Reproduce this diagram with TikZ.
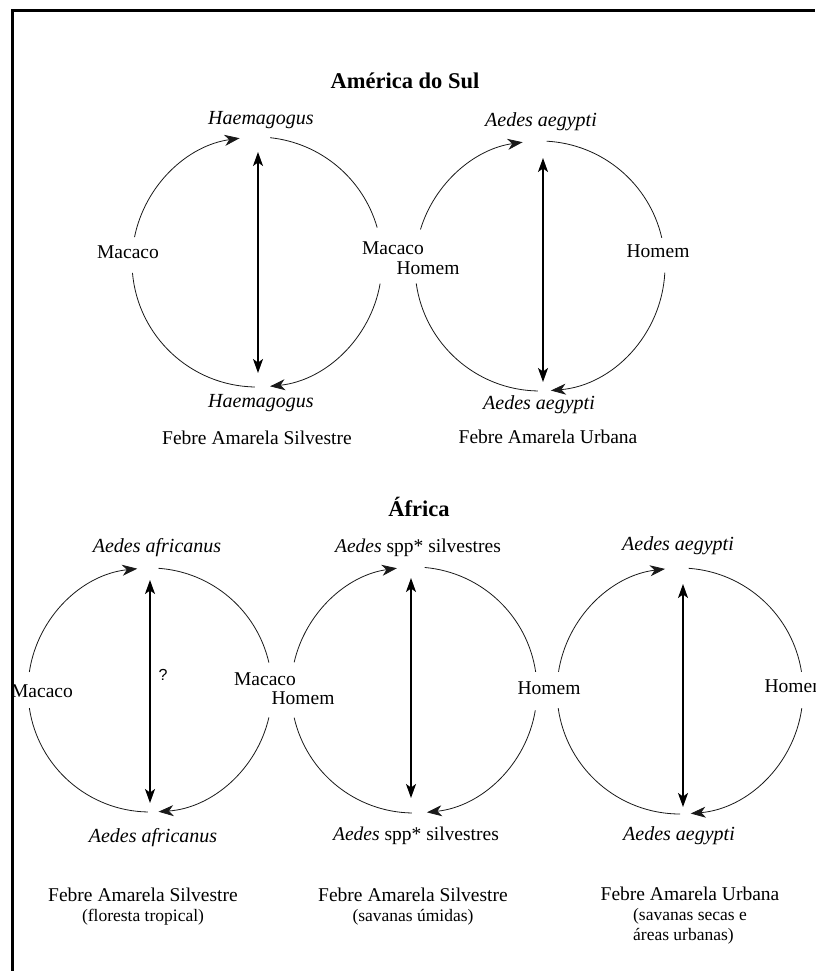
\documentclass[tikz,border=0pt]{standalone}
\usepackage{fontspec}
\setmainfont{Liberation Serif}
\setsansfont{Liberation Sans}
\usetikzlibrary{arrows.meta, positioning}

\begin{document}
\begin{tikzpicture}[
        x=1pt, y=1pt,
        lbl/.style={font=\fontsize{19.5}{22}\selectfont, inner sep=0pt},
        vec/.style={inner sep=0pt, font=\fontsize{20}{22}\selectfont\itshape},
        ttl/.style={inner sep=0pt, font=\fontsize{22.5}{26}\selectfont\bfseries},
        sub/.style={inner sep=0pt, font=\fontsize{17.5}{20}\selectfont},
        cyc/.style={line width=0.8pt, black!90},
        cycarrow/.style={cyc, -{Stealth[length=15pt, width=11pt, inset=4.5pt]}},
        link/.style={line width=1.4pt, {Stealth[length=14pt, width=10pt, inset=3.5pt]}-{Stealth[length=14pt, width=10pt, inset=3.5pt]}}
    ]

        \useasboundingbox (0,0) rectangle (815,-971);

        \coordinate (c1) at (257,-262);
        \coordinate (c2) at (540,-266);
        \coordinate (c3) at (150,-690);
        \coordinate (c4) at (414,-690);
        \coordinate (c5) at (680,-691);

        \node[ttl] (amsul) at (405,-81) {América do Sul};
        \node[vec] (hg1t) at (261,-120) {Haemagogus};
        \node[vec] (hg1b) at (261,-403) {Haemagogus};
        \node[lbl] (mac1) at (128,-252) {Macaco};
        \node[lbl] (mac12) at (393,-248) {Macaco};
        \node[lbl] (hom12) at (428,-268) {Homem};
        \node[lbl] (fas1) at (257,-438) {Febre Amarela Silvestre};
        \node[vec] (ae2t) at (541,-122) {Aedes aegypti};
        \node[vec] (ae2b) at (539,-405) {Aedes aegypti};
        \node[lbl] (hom2) at (658,-251) {Homem};
        \node[lbl] (fau2) at (548,-437) {Febre Amarela Urbana};

        \node[ttl] (afr) at (419,-507) {África};
        \node[vec] (af3t) at (157,-548) {Aedes africanus};
        \node[vec] (af3b) at (153,-838) {Aedes africanus};
        \node[font=\sffamily\fontsize{16}{18}\selectfont, inner sep=0pt] (q3) at (163,-675) {?};
        \node[lbl] (mac3) at (42,-691) {Macaco};
        \node[lbl] (mac34) at (265,-679) {Macaco};
        \node[lbl] (hom34) at (303,-698) {Homem};
        \node[lbl] (sp4t) at (418,-548) {\textit{Aedes} spp* silvestres};
        \node[lbl] (sp4b) at (416,-836) {\textit{Aedes} spp* silvestres};
        \node[lbl] (hom45) at (549,-688) {Homem};
        \node[vec] (ae5t) at (678,-546) {Aedes aegypti};
        \node[vec] (ae5b) at (679,-836) {Aedes aegypti};
        \node[lbl] (hom5) at (796,-686) {Homem};

        \node[lbl] (fas3) at (143,-895) {Febre Amarela Silvestre};
        \node[sub, below=7pt of fas3] (flo3) {(floresta tropical)};
        \node[lbl] (fas4) at (413,-895) {Febre Amarela Silvestre};
        \node[sub, below=7pt of fas4] (sav4) {(savanas úmidas)};
        \node[lbl] (fau5) at (690,-894) {Febre Amarela Urbana};
        \node[sub, align=left, below=7pt of fau5] (sav5) {(savanas secas e\\áreas urbanas)};

        \draw[cycarrow] ([shift={(168.5:125pt)}]c1) arc[start angle=168.5, end angle=98, radius=125pt];
        \draw[cyc] ([shift={(84:125pt)}]c1) arc[start angle=84, end angle=16, radius=125pt];
        \draw[cycarrow] ([shift={(-10:125pt)}]c1) arc[start angle=-10, end angle=-84, radius=125pt];
        \draw[cyc] ([shift={(-91:125pt)}]c1) arc[start angle=-91, end angle=-175, radius=125pt];

        \draw[cycarrow] ([shift={(163:125pt)}]c2) arc[start angle=163, end angle=98, radius=125pt];
        \draw[cyc] ([shift={(87:125pt)}]c2) arc[start angle=87, end angle=13, radius=125pt];
        \draw[cycarrow] ([shift={(-3:125pt)}]c2) arc[start angle=-3, end angle=-85, radius=125pt];
        \draw[cyc] ([shift={(-91:125pt)}]c2) arc[start angle=-91, end angle=-172, radius=125pt];

        \draw[cycarrow] ([shift={(171.5:122pt)}]c3) arc[start angle=171.5, end angle=96, radius=122pt];
        \draw[cyc] ([shift={(86:122pt)}]c3) arc[start angle=86, end angle=13, radius=122pt];
        \draw[cycarrow] ([shift={(-13:122pt)}]c3) arc[start angle=-13, end angle=-86, radius=122pt];
        \draw[cyc] ([shift={(-91:122pt)}]c3) arc[start angle=-91, end angle=-171.5, radius=122pt];

        \draw[cycarrow] ([shift={(167:123pt)}]c4) arc[start angle=167, end angle=98, radius=123pt];
        \draw[cyc] ([shift={(85:123pt)}]c4) arc[start angle=85, end angle=8.5, radius=123pt];
        \draw[cycarrow] ([shift={(-9.5:123pt)}]c4) arc[start angle=-9.5, end angle=-84, radius=123pt];
        \draw[cyc] ([shift={(-91:123pt)}]c4) arc[start angle=-91, end angle=-167, radius=123pt];

        \draw[cycarrow] ([shift={(171:123pt)}]c5) arc[start angle=171, end angle=97, radius=123pt];
        \draw[cyc] ([shift={(86:123pt)}]c5) arc[start angle=86, end angle=9, radius=123pt];
        \draw[cycarrow] ([shift={(-8:123pt)}]c5) arc[start angle=-8, end angle=-85, radius=123pt];
        \draw[cyc] ([shift={(-90:123pt)}]c5) arc[start angle=-90, end angle=-172, radius=123pt];

        \coordinate (v1t) at (258,-152);
        \coordinate (v1b) at (258,-373);
        \coordinate (v2t) at (543,-158);
        \coordinate (v2b) at (543,-382);
        \coordinate (v3t) at (150,-580);
        \coordinate (v3b) at (150,-803);
        \coordinate (v4t) at (411,-578);
        \coordinate (v4b) at (411,-798);
        \coordinate (v5t) at (683,-584);
        \coordinate (v5b) at (683,-807);

        \draw[link] (v1t) -- (v1b);
        \draw[link] (v2t) -- (v2b);
        \draw[link] (v3t) -- (v3b);
        \draw[link] (v4t) -- (v4b);
        \draw[link] (v5t) -- (v5b);

        \draw[line width=3pt] (12.5,-971) |- (815,-10.5);

    \end{tikzpicture}
\end{document}
